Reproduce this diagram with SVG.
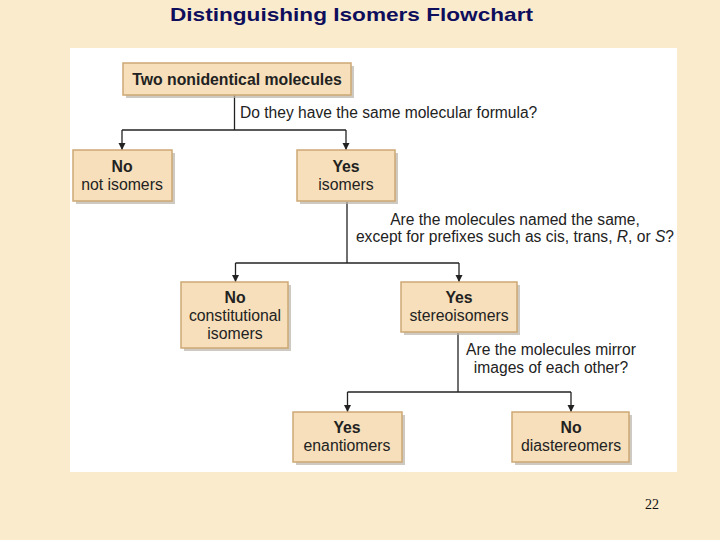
<svg xmlns="http://www.w3.org/2000/svg" width="720" height="540" viewBox="0 0 720 540">
<defs>
<style>
.box{fill:#F6DFBA;stroke:#CDA874;stroke-width:1.5}
.sh{fill:#B9B2A6;opacity:0.7}
.t{font-family:"Liberation Sans",Arial,sans-serif;font-size:15.8px;fill:#222;text-anchor:middle}
.b{font-weight:bold}
.lbl{font-family:"Liberation Sans",Arial,sans-serif;font-size:15.6px;fill:#222}
.ln{stroke:#222;stroke-width:1.3;fill:none}
</style>
<marker id="arr" markerWidth="8" markerHeight="8" refX="7" refY="4" orient="auto" markerUnits="userSpaceOnUse" viewBox="0 0 8 8">
<path d="M0,0.5 L7,4 L0,7.5 Z" fill="#222"/>
</marker>
</defs>
<rect width="720" height="540" fill="#FAEBCC"/>
<rect x="70" y="48" width="607" height="424" fill="#FFFFFF"/>
<text x="170" y="21" font-family="'Liberation Sans',Arial,sans-serif" font-weight="bold" font-size="19" fill="#0E0E5C" textLength="363" lengthAdjust="spacingAndGlyphs">Distinguishing Isomers Flowchart</text>

<g id="connectors">
<path class="ln" d="M234.5,95 V130"/>
<path class="ln" d="M122,130 H346"/>
<path class="ln" d="M122,130 V150" marker-end="url(#arr)"/>
<path class="ln" d="M346,130 V150" marker-end="url(#arr)"/>
<path class="ln" d="M347,202 V263"/>
<path class="ln" d="M235.5,263 H459"/>
<path class="ln" d="M235.5,263 V282" marker-end="url(#arr)"/>
<path class="ln" d="M459,263 V282" marker-end="url(#arr)"/>
<path class="ln" d="M458,333 V392"/>
<path class="ln" d="M347.5,392 H571"/>
<path class="ln" d="M347.5,392 V412" marker-end="url(#arr)"/>
<path class="ln" d="M571,392 V412" marker-end="url(#arr)"/>
<text class="lbl" x="240" y="118">Do they have the same molecular formula?</text>
<text class="lbl" x="515" y="225" text-anchor="middle">Are the molecules named the same,</text>
<text class="lbl" x="515" y="242" text-anchor="middle">except for prefixes such as cis, trans, <tspan font-style="italic">R</tspan>, or <tspan font-style="italic">S</tspan>?</text>
<text class="lbl" x="551" y="355" text-anchor="middle">Are the molecules mirror</text>
<text class="lbl" x="551" y="373" text-anchor="middle">images of each other?</text>
</g>

<g id="n-start">
<rect class="sh" x="126" y="66" width="228" height="32"/>
<rect class="box" x="123" y="63" width="228" height="32"/>
<text class="t b" x="237" y="85">Two nonidentical molecules</text>
</g>
<g id="n-not-isomers">
<rect class="sh" x="76" y="153" width="99" height="51"/>
<rect class="box" x="73" y="150" width="99" height="51"/>
<text class="t b" x="122" y="172">No</text>
<text class="t" x="122" y="190">not isomers</text>
</g>
<g id="n-isomers">
<rect class="sh" x="300" y="153" width="98" height="51"/>
<rect class="box" x="297" y="150" width="98" height="51"/>
<text class="t b" x="346" y="172">Yes</text>
<text class="t" x="346" y="190">isomers</text>
</g>
<g id="n-constitutional">
<rect class="sh" x="184" y="285" width="107" height="66"/>
<rect class="box" x="181" y="282" width="107" height="66"/>
<text class="t b" x="235" y="303">No</text>
<text class="t" x="235" y="321">constitutional</text>
<text class="t" x="235" y="339">isomers</text>
</g>
<g id="n-stereo">
<rect class="sh" x="404" y="285" width="116" height="50"/>
<rect class="box" x="401" y="282" width="116" height="50"/>
<text class="t b" x="459" y="303">Yes</text>
<text class="t" x="459" y="321">stereoisomers</text>
</g>
<g id="n-enantiomers">
<rect class="sh" x="296" y="415" width="109" height="50"/>
<rect class="box" x="293" y="412" width="109" height="50"/>
<text class="t b" x="347" y="433">Yes</text>
<text class="t" x="347" y="451">enantiomers</text>
</g>
<g id="n-diastereomers">
<rect class="sh" x="515" y="415" width="117" height="50"/>
<rect class="box" x="512" y="412" width="117" height="50"/>
<text class="t b" x="571" y="433">No</text>
<text class="t" x="571" y="451">diastereomers</text>
</g>
<text x="652" y="509" font-family="'Liberation Serif','Times New Roman',serif" font-size="14" fill="#111" text-anchor="middle">22</text>
</svg>
